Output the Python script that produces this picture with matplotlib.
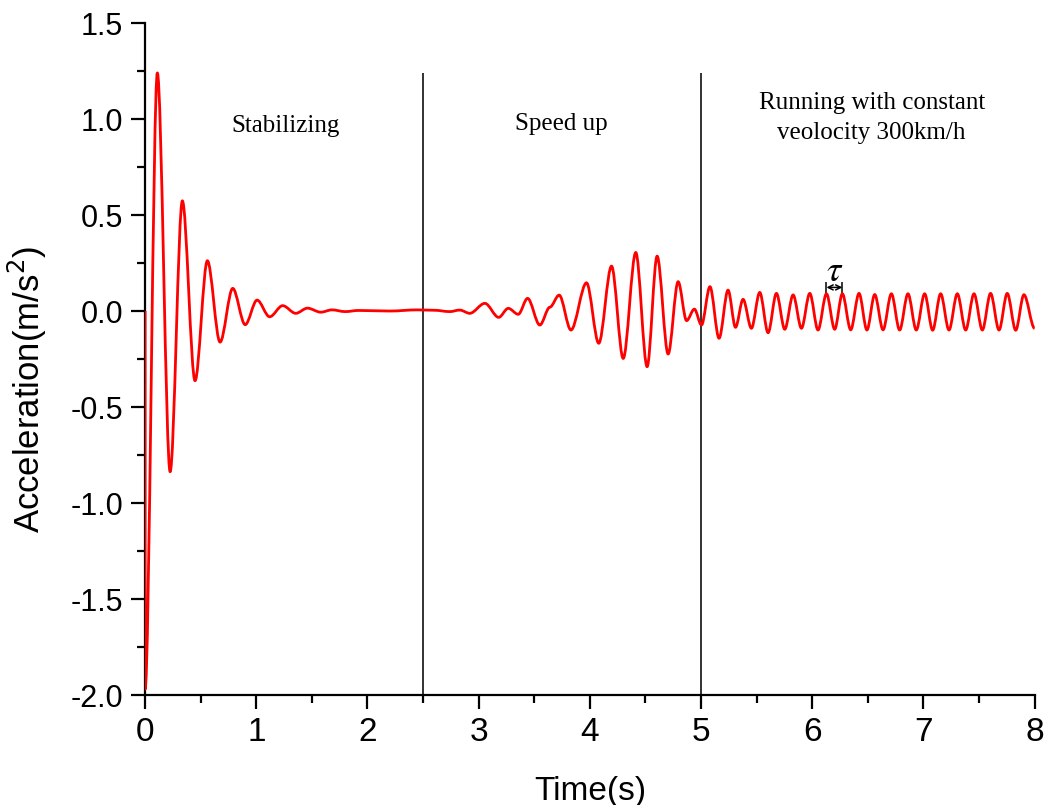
"""Recreate the acceleration-vs-time chart (stabilizing / speed up / constant speed)."""

import matplotlib

matplotlib.use("Agg")
import matplotlib.pyplot as plt
from matplotlib.patches import PathPatch
from matplotlib.path import Path
from matplotlib.ticker import MultipleLocator

# turning points of the red acceleration trace
STABILIZING_T = [0.0, 0.0, 0.11, 0.225, 0.335, 0.449, 0.56, 0.674, 0.788, 0.90,
                 1.007, 1.12, 1.237, 1.355, 1.46, 1.58, 1.68, 1.80, 1.92, 2.2, 2.45]
STABILIZING_A = [0.0, -1.97, 1.24, -0.837, 0.574, -0.363, 0.262, -0.162, 0.118, -0.071,
                 0.057, -0.030, 0.028, -0.012, 0.015, -0.006, 0.006, -0.003, 0.003, 0.0, 0.006]

SPEEDUP_T = [2.6, 2.74, 2.83, 2.92, 3.056, 3.18, 3.266, 3.356, 3.44, 3.55, 3.64, 3.724,
             3.83, 3.97, 4.08, 4.195, 4.30, 4.413, 4.515, 4.605, 4.704, 4.794, 4.87, 4.94]
SPEEDUP_A = [0.004, -0.003, 0.005, -0.012, 0.040, -0.033, 0.014, -0.017, 0.066, -0.073, 0.02, 0.083,
             -0.099, 0.147, -0.168, 0.234, -0.247, 0.305, -0.290, 0.286, -0.224, 0.153, -0.050, 0.010]

CONSTANT_T = [5.004, 5.08, 5.162, 5.243, 5.31, 5.378, 5.453, 5.528, 5.603, 5.678, 5.753, 5.828,
              5.903, 5.978, 6.052, 6.128, 6.202, 6.271, 6.346, 6.421, 6.492, 6.562, 6.637, 6.712,
              6.786, 6.861, 6.936, 7.011, 7.083, 7.155, 7.23, 7.305, 7.38, 7.455, 7.53, 7.604,
              7.68, 7.754, 7.83, 7.904, 8.0]
CONSTANT_A = [-0.073, 0.127, -0.142, 0.109, -0.085, 0.061, -0.090, 0.097, -0.113, 0.092, -0.095, 0.084,
              -0.090, 0.092, -0.099, 0.090, -0.095, 0.090, -0.098, 0.092, -0.099, 0.086, -0.098, 0.090,
              -0.099, 0.090, -0.099, 0.090, -0.100, 0.090, -0.099, 0.090, -0.099, 0.090, -0.099, 0.092,
              -0.099, 0.092, -0.100, 0.085, -0.090]

PHASE_BOUNDS = [2.5, 5.0]
PHASE_LABELS = ["Stabilizing", "Speed up", "Running with constant\nveolocity 300km/h"]
PHASE_LABEL_T = [1.267, 3.74, 6.535]
PHASE_LABEL_A = [0.963, 0.974, 1.005]

TAU_START, TAU_END = 6.128, 6.271

SANS = "Liberation Sans"
SERIF = "Liberation Serif"


def smooth_path(ts, vals):
    # cubic segments with flat tangents at every turning point
    verts = [(ts[0], vals[0])]
    codes = [Path.MOVETO]
    for t0, a0, t1, a1 in zip(ts[:-1], vals[:-1], ts[1:], vals[1:]):
        dt = t1 - t0
        verts += [(t0 + dt / 3, a0), (t1 - dt / 3, a1), (t1, a1)]
        codes += [Path.CURVE4] * 3
    return Path(verts, codes)


def main():
    ts = STABILIZING_T + SPEEDUP_T + CONSTANT_T
    vals = STABILIZING_A + SPEEDUP_A + CONSTANT_A

    fig = plt.figure(figsize=(10.44, 8.05), dpi=100)
    ax = fig.add_axes([0.139, 0.1366, 0.852, 0.8348])

    ax.add_patch(PathPatch(smooth_path(ts, vals), fill=False, edgecolor="#ff0000", lw=2.0,
                           joinstyle="round", zorder=3))

    ax.vlines(PHASE_BOUNDS, -2.0, 1.24, color="#222222", lw=1.3, zorder=2)

    for label, t, a in zip(PHASE_LABELS, PHASE_LABEL_T, PHASE_LABEL_A):
        ax.text(t, a, label, ha="center", va="center", family=SERIF, fontsize=18,
                linespacing=1.5)

    # period marker
    ax.vlines([TAU_START, TAU_END], 0.09, 0.15, color="black", lw=1.1)
    ax.annotate("", xy=(TAU_END, 0.123), xytext=(TAU_START, 0.123),
                arrowprops=dict(arrowstyle="<->", color="black", lw=1.1,
                                shrinkA=0, shrinkB=0, mutation_scale=9))
    ax.text((TAU_START + TAU_END) / 2, 0.21, r"$\tau$", ha="center", va="center",
            fontsize=26, math_fontfamily="stix")

    ax.set_xlim(0, 8)
    ax.set_ylim(-2.0, 1.5)
    ax.xaxis.set_major_locator(MultipleLocator(1))
    ax.xaxis.set_minor_locator(MultipleLocator(0.5))
    ax.yaxis.set_major_locator(MultipleLocator(0.5))
    ax.yaxis.set_minor_locator(MultipleLocator(0.25))
    ax.yaxis.set_major_formatter(lambda v, pos: f"{v:.1f}")

    for side in ("top", "right"):
        ax.spines[side].set_visible(False)
    for side in ("left", "bottom"):
        ax.spines[side].set_linewidth(1.6)

    ax.tick_params(which="major", direction="out", length=10, width=1.6)
    ax.tick_params(which="minor", direction="out", length=5.5, width=1.6)
    ax.tick_params(axis="x", which="major", labelsize=24, pad=6)
    ax.tick_params(axis="y", which="major", labelsize=22, pad=6)
    for lab in ax.get_xticklabels() + ax.get_yticklabels():
        lab.set_family(SANS)

    ax.set_xlabel("Time(s)", family=SANS, fontsize=24, labelpad=20)
    ax.set_ylabel(r"Acceleration(m/s$^2$)", family=SANS, fontsize=25)
    ax.yaxis.set_label_coords(-0.108, 0.454)

    fig.savefig("out.png", dpi=100)


if __name__ == "__main__":
    main()
